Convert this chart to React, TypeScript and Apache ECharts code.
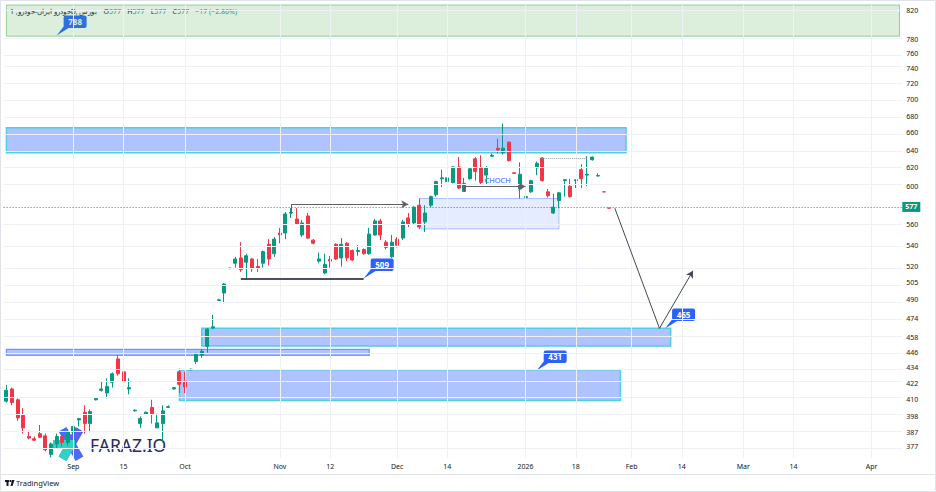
import React, { useEffect, useRef } from 'react';
import * as echarts from 'echarts';

// ---------- data ----------
const SLOTS = 161; // trading-day slots, incl. future space
const xTickIndex = [12, 21, 32, 49, 58, 70, 79, 93, 102, 112, 121, 132, 141, 155];
const xTickText = ['Sep', '15', 'Oct', 'Nov', '12', 'Dec', '14', '2026', '18', 'Feb', '14', 'Mar', '14', 'Apr'];
const yTicks = [820, 780, 760, 740, 720, 700, 680, 660, 640, 620, 600, 560, 540, 520, 505, 490, 474, 458, 446, 434, 422, 410, 398, 387, 377];
const yMin = 369.6;
const yMax = 828.8;

const opens = [409, 418, 410, 399, 384, 382.5, 386, 384.5, 372, 379, 384, 380, 387, 395.5, 401, 393, 410, 417, 415, 423, 441, 431, 418, 402, 393, 399.5, 404.5, 390, 393, 404.5, 418, 431, 424, 432.5, 439, 444, 451, 466, 489.5, 496, 518, 523, 528, 524, 527, 520, 523, 541, 532, 552, 552, 572, 566, 550, 569, 545, 525, 514, 526.5, 541, 528, 542, 535, 534, 536, 532, 550, 564, 543, 529, 546, 547, 567, 562, 580, 563, 580, 591, 608, 605, 604, 621, 594.5, 608, 630, 620, 612, 633, 642, 637, 649, 614.5, 597, 588, 594, 620, 631, 594, 572, 585, 606, 600, 606, 618, 612, 629, 611, 594, 577];
const closes = [417, 408, 397, 390, 383, 381.5, 383.5, 375, 379, 384, 380, 387, 391, 396.5, 393, 401.5, 411, 418, 420, 429.5, 429.5, 424, 419, 402.5, 396.5, 401, 400, 393.5, 402, 405, 419, 421.5, 419.5, 433, 444.5, 447, 465, 467, 490, 504, 518.5, 527, 517, 530, 518, 518.5, 534, 527, 546, 550, 571, 572.5, 561, 562, 547, 542, 527, 522, 525, 527, 541, 528, 526, 535, 532, 551, 564, 550, 538, 543, 540, 563, 561, 578, 558, 572, 589, 605, 609, 609, 621, 598, 603, 619, 616, 604, 620, 634, 640, 642, 628, 614, 613, 589, 606, 625, 606, 590, 578, 593, 607, 589, 607, 608, 613, 632, 611.5, 594, 577];
const lows = [408, 406, 395, 386, 382, 381, 383, 374, 370, 376, 377, 378, 385, 391, 386, 387, 409.5, 416, 411, 419, 428, 421, 414, 401.5, 390, 399, 393, 390, 380, 404, 417.5, 415, 415, 432, 437, 442, 446, 465, 489, 487, 517.5, 519, 515, 509, 515, 515, 519, 521, 529, 542, 546, 567, 560, 548, 546, 541, 523, 513, 519, 526, 520, 525, 525, 530, 531, 531, 549, 545, 536, 528, 538, 545, 558, 560, 556, 553, 578, 589, 599, 602, 603, 597, 594, 607, 606, 602, 602, 632, 636, 635, 627, 613.5, 587, 588, 593, 612, 605, 588, 571, 577, 589, 588, 598, 598, 600, 628, 610.5, 594, 577];
const highs = [421, 419, 411, 404, 388, 384, 392, 386, 380, 386, 387, 389, 393, 397, 406, 403, 411.5, 424, 426, 430.5, 444, 437, 426, 403, 398, 401.5, 410, 400, 406, 406, 419.5, 433.5, 431, 433.5, 446, 449, 466, 477, 491, 505, 519, 529, 543, 532, 528, 527, 535, 546, 548, 557, 573, 577, 577, 565, 572, 546, 533, 532, 530, 542, 547, 543, 536, 540, 537, 557, 566, 566, 545, 550, 548, 565, 572, 579, 587, 580, 590, 606, 618, 612, 622, 632, 609, 620, 632, 634, 622, 636, 653, 671, 650, 615, 626, 598, 607, 627, 632, 597, 592, 594, 607.5, 608, 607.5, 624, 633, 632.5, 614, 594, 577];

const lastPrice = 577;
const zoneLevels = { green: [784, yMax], upper: [637, 666], demand: [556, 587], mid: [451.3, 465.7], thin: [443.8, 448.5], lower: [409.5, 432.5] };
const callouts = [
  { text: '788', slot: 8.7, price: 785 },
  { text: '509', slot: 63.7, price: 509 },
  { text: '465', slot: 117.8, price: 465.5 },
  { text: '431', slot: 95, price: 432 },
];

const L = Math.log;
const GREEN = '#089981';
const RED = '#f23645';

export default function App() {
  const ref = useRef<HTMLDivElement>(null);
  useEffect(() => {
    if (!ref.current) return;
    const chart = echarts.init(ref.current, null, { renderer: 'svg' });
    const candleData = opens.map((o, i) => [L(o), L(closes[i]), L(lows[i]), L(highs[i])]);
    const blueFill = 'rgba(41,98,255,0.38)';
    const cyan = '#4dd0e1';
    const area = (x0: number, x1: number, lv: number[], fill: string, border: string, bw = 1.2) => [
      { xAxis: x0, yAxis: L(lv[0]), itemStyle: { color: fill, borderColor: border, borderWidth: bw } },
      { xAxis: x1, yAxis: L(lv[1]) },
    ];
    const seg = (a: [number, number], b: [number, number], style: any, arrow = false) => [
      { coord: [a[0], L(a[1])], symbol: 'none', lineStyle: style },
      { coord: [b[0], L(b[1])], symbol: arrow ? 'arrow' : 'none', symbolSize: [6, 7] },
    ];
    const option: any = {
      animation: false,
      backgroundColor: '#ffffff',
      textStyle: { fontFamily: 'Noto Sans' },
      grid: { left: 3.6, right: 33.7, top: 5, bottom: 34, containLabel: false },
      xAxis: {
        type: 'category',
        data: Array.from({ length: SLOTS }, (_, i) => String(i)),
        boundaryGap: true,
        axisLine: { show: false },
        axisTick: { show: false },
        splitLine: { show: false },
        axisLabel: {
          interval: (i: number) => xTickIndex.includes(i),
          formatter: (_v: string, i: number) => {
            const k = xTickIndex.indexOf(i);
            return k >= 0 ? xTickText[k] : '';
          },
          color: '#131722',
          fontSize: 7,
          margin: 5,
        },
      },
      yAxis: {
        type: 'value',
        position: 'right',
        min: L(yMin),
        max: L(yMax),
        axisLine: { show: false },
        axisTick: { show: false },
        splitLine: { show: false },
        axisLabel: {
          customValues: yTicks.map(L),
          formatter: (v: number) => String(Math.round(Math.exp(v))),
          color: '#131722',
          fontSize: 7,
          margin: 4,
        },
      },
      series: [
        {
          type: 'line',
          data: [],
          silent: true,
          z: 1,
          markLine: {
            silent: true,
            symbol: 'none',
            label: { show: false },
            lineStyle: { color: '#eef1f7', width: 1, type: 'solid' },
            data: [...yTicks.map((v) => ({ yAxis: L(v) })), ...xTickIndex.map((i) => ({ xAxis: i }))],
          },
        },
        {
          type: 'line',
          data: [],
          silent: true,
          z: 2,
          markArea: {
            silent: true,
            data: [
              area(0, 160, zoneLevels.green, 'rgba(76,175,80,0.2)', 'rgba(76,175,80,0.55)', 1),
              area(0, 111, zoneLevels.upper, blueFill, cyan, 1.5),
              area(74, 99, zoneLevels.demand, 'rgba(41,98,255,0.12)', 'rgba(41,98,255,0.35)', 1),
              area(35, 119, zoneLevels.mid, blueFill, cyan, 1.5),
              area(0, 65, zoneLevels.thin, blueFill, 'rgba(41,98,255,0.6)', 1.2),
              area(31, 110, zoneLevels.lower, blueFill, cyan, 1.5),
            ],
          },
        },
        {
          type: 'candlestick',
          z: 3,
          data: candleData,
          barWidth: 3.5,
          itemStyle: { color: GREEN, color0: RED, borderColor: GREEN, borderColor0: RED, borderWidth: 1 },
          markLine: {
            silent: true,
            symbol: 'none',
            label: { show: false },
            data: [
              {
                yAxis: L(lastPrice),
                lineStyle: { color: GREEN, type: [1, 2], width: 1 },
                label: {
                  show: true,
                  position: 'end',
                  formatter: String(lastPrice),
                  color: '#ffffff',
                  backgroundColor: GREEN,
                  padding: [2, 3, 1, 3],
                  fontSize: 7,
                  fontWeight: 'bold',
                  distance: 0,
                },
              },
              seg([42, 509], [64, 509], { color: '#131722', width: 1.6, type: 'solid' }),
              seg([51, 571], [51, 581], { color: '#5d606b', width: 1, type: 'solid' }),
              seg([51, 581], [72, 581], { color: '#5d606b', width: 1, type: 'solid' }, true),
              seg([82, 594], [82, 599.6], { color: '#5d606b', width: 1, type: 'solid' }),
              seg([82, 599.6], [93, 599.6], { color: '#5d606b', width: 1, type: 'solid' }, true),
              seg([96, 630.7], [104, 630.7], { color: '#9598a1', width: 1, type: 'dotted' }),
              seg([109, 577], [117, 465.7], { color: '#434651', width: 1, type: 'solid' }),
              seg([117, 465.7], [123, 516], { color: '#434651', width: 1, type: 'solid' }, true),
            ],
          },
        },
      ],
    };
    chart.setOption(option);

    const px = (s: number, p: number) => chart.convertToPixel({ xAxisIndex: 0, yAxisIndex: 0 }, [s, L(p)]) as number[];
    const graphics: any[] = [];
    callouts.forEach((c) => {
      const [tx, ty] = px(c.slot, c.price);
      graphics.push({
        type: 'group',
        children: [
          { type: 'polygon', shape: { points: [[tx, ty], [tx + 7, ty - 9], [tx + 12, ty - 7.5]] }, style: { fill: '#2962ff' } },
          { type: 'rect', shape: { x: tx + 7, y: ty - 20, width: 23, height: 12.5, r: 2 }, style: { fill: '#2962ff' } },
          {
            type: 'text',
            x: tx + 18.5,
            y: ty - 13.6,
            style: { text: c.text, fill: '#ffffff', fontSize: 8, fontWeight: 'bold', fontFamily: 'Noto Sans', align: 'center', verticalAlign: 'middle' },
          },
        ],
      });
    });
    const [cx, cy] = px(87.5, 606.5);
    graphics.push({
      type: 'text',
      x: cx,
      y: cy,
      style: { text: 'CHOCH', fill: '#2962ff', fontSize: 7.5, fontFamily: 'Noto Sans', align: 'center', verticalAlign: 'middle' },
    });
    // header
    graphics.push({
      type: 'text',
      x: 10,
      y: 11.5,
      style: {
        text: '{t|خودرو ایران-خودرو, 1D, بورس}  {l|O}{v|577}  {l|H}{v|577}  {l|L}{v|577}  {l|C}{v|577}  {v|−17 (−2.86%)}',
        verticalAlign: 'middle',
        fontFamily: 'Noto Sans',
        rich: {
          t: { fill: '#131722', fontSize: 7, fontFamily: 'Noto Sans' },
          l: { fill: '#131722', fontSize: 7, fontFamily: 'Noto Sans' },
          v: { fill: GREEN, fontSize: 7, fontFamily: 'Noto Sans' },
        },
      },
    });
    // FARAZ.IO watermark
    graphics.push({
      type: 'group',
      children: [
        { type: 'rect', x: 71, y: 444, rotation: Math.PI / 6, shape: { x: -4.5, y: -17, width: 9, height: 34 }, style: { fill: '#4d6cf5' } },
        { type: 'rect', x: 71, y: 444, rotation: -Math.PI / 6, shape: { x: -4.5, y: -17, width: 9, height: 34 }, style: { fill: '#5a5ff2' } },
        { type: 'rect', shape: { x: 53, y: 440, width: 22, height: 8 }, style: { fill: '#2fd3c5' } },
        { type: 'rect', x: 71, y: 444, rotation: -Math.PI / 6, shape: { x: -4.5, y: 0, width: 9, height: 17 }, style: { fill: '#2fd3c5' } },
        {
          type: 'text',
          x: 90,
          y: 445,
          style: { text: 'FARAZ.IO', fill: '#262a5c', fontSize: 17.5, fontFamily: 'Noto Sans', verticalAlign: 'middle' },
        },
      ],
    });
    // frame + footer
    graphics.push(
      { type: 'rect', shape: { x: 0.5, y: 0.5, width: 935, height: 491 }, style: { fill: 'none', stroke: '#e0e3eb', lineWidth: 1 }, silent: true },
      { type: 'line', shape: { x1: 0, y1: 474.5, x2: 936, y2: 474.5 }, style: { stroke: '#e0e3eb', lineWidth: 1 }, silent: true },
      { type: 'rect', shape: { x: 5, y: 480, width: 4, height: 2 }, style: { fill: '#131722' } },
      { type: 'rect', shape: { x: 6.5, y: 480, width: 2, height: 6 }, style: { fill: '#131722' } },
      { type: 'circle', shape: { cx: 10.5, cy: 481, r: 1.1 }, style: { fill: '#131722' } },
      { type: 'polygon', shape: { points: [[12, 480], [14.5, 480], [12.5, 486], [10.5, 486]] }, style: { fill: '#131722' } },
      {
        type: 'text',
        x: 16,
        y: 483,
        style: { text: 'TradingView', fill: '#131722', fontSize: 7.5, fontFamily: 'Noto Sans', verticalAlign: 'middle' },
      }
    );
    chart.setOption({ graphic: graphics });
    return () => chart.dispose();
  }, []);
  return <div ref={ref} style={{ position: 'fixed', left: 0, top: 0, width: 936, height: 492, background: '#fff' }} />;
}
